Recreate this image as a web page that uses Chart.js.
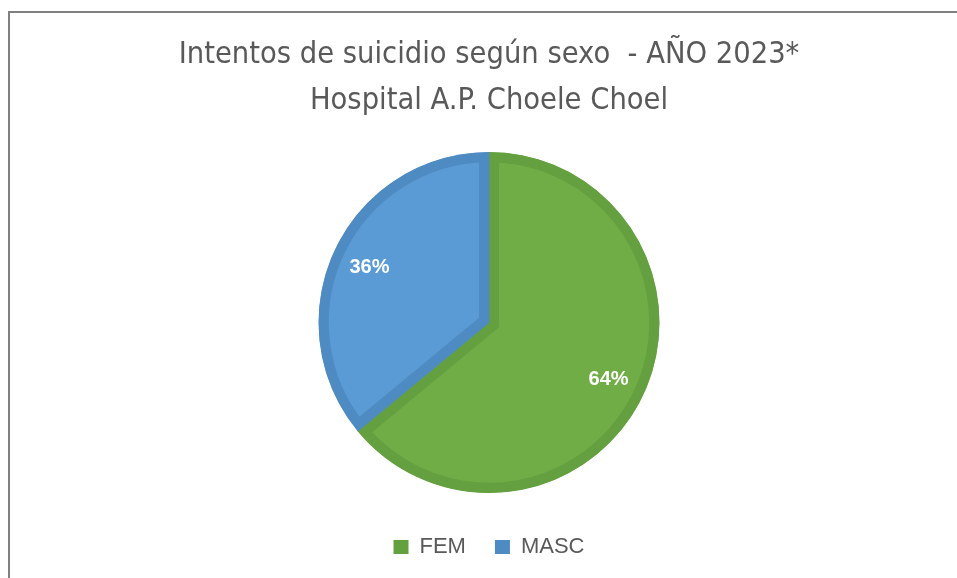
<!DOCTYPE html>
<html>
<head>
<meta charset="utf-8">
<script src="https://cdn.jsdelivr.net/npm/chart.js@4/dist/chart.umd.min.js"></script>
<style>
  html, body { margin: 0; padding: 0; background: #ffffff; }
  #wrap { position: relative; width: 957px; height: 578px; }
</style>
</head>
<body>
<div id="wrap"><canvas id="c" width="957" height="578"></canvas></div>
<script>
const titleLines = ['Intentos de suicidio según sexo  - AÑO 2023*', 'Hospital A.P. Choele Choel'];
const categories = ['FEM', 'MASC'];
const percentValues = [64, 36];
const fillColors = ['#70AD47', '#5B9BD5'];
const edgeColors = ['#64A03F', '#4F8BC3'];

const framePlugin = {
  id: 'frame',
  beforeDraw(chart) {
    const ctx = chart.ctx;
    ctx.save();
    ctx.fillStyle = '#ffffff';
    ctx.fillRect(0, 0, chart.width, chart.height);
    ctx.fillStyle = '#808080';
    ctx.fillRect(8, 11, 2, chart.height - 11);
    ctx.fillRect(8, 11, chart.width - 8, 2);
    ctx.restore();
  }
};

const labelPlugin = {
  id: 'sliceLabels',
  afterDatasetsDraw(chart) {
    const ctx = chart.ctx;
    const meta = chart.getDatasetMeta(0);
    ctx.save();
    ctx.fillStyle = '#ffffff';
    ctx.font = 'bold 20px "Liberation Sans", Arial, sans-serif';
    ctx.textAlign = 'center';
    ctx.textBaseline = 'middle';
    meta.data.forEach((arc, i) => {
      const p = arc.getProps(['x', 'y', 'startAngle', 'endAngle', 'outerRadius'], true);
      const mid = (p.startAngle + p.endAngle) / 2;
      const r = p.outerRadius * 0.775;
      ctx.fillText(percentValues[i] + '%', p.x + Math.cos(mid) * r, p.y + Math.sin(mid) * r + 1);
    });
    ctx.restore();
  }
};

new Chart(document.getElementById('c'), {
  type: 'pie',
  data: {
    labels: categories,
    datasets: [{
      data: percentValues,
      backgroundColor: fillColors,
      borderColor: edgeColors,
      borderWidth: 10,
      borderAlign: 'inner',
      borderJoinStyle: 'miter',
      hoverOffset: 0
    }]
  },
  options: {
    responsive: false,
    animation: false,
    events: [],
    layout: { padding: { left: 21, right: 0, top: 12, bottom: 10 } },
    plugins: {
      title: {
        display: true,
        text: titleLines,
        color: '#595959',
        font: { family: '"Liberation Sans Narrow", "DejaVu Sans Condensed", sans-serif', size: 30.5, weight: 'normal', lineHeight: 1.508 },
        padding: { top: 20, bottom: 28 }
      },
      legend: {
        display: true,
        position: 'bottom',
        title: { display: true, text: ' ', font: { size: 10, lineHeight: 1.2 }, padding: 1 },
        labels: {
          color: '#595959',
          font: { family: '"Liberation Sans", Arial, sans-serif', size: 22 },
          boxWidth: 15,
          boxHeight: 14,
          padding: 29,
          generateLabels(chart) {
            const items = Chart.overrides.pie.plugins.legend.labels.generateLabels(chart);
            return items.map((it, i) => Object.assign(it, { fillStyle: edgeColors[i], strokeStyle: edgeColors[i], lineWidth: 0 }));
          }
        }
      },
      tooltip: { enabled: false }
    }
  },
  plugins: [framePlugin, labelPlugin]
});
</script>
</body>
</html>
